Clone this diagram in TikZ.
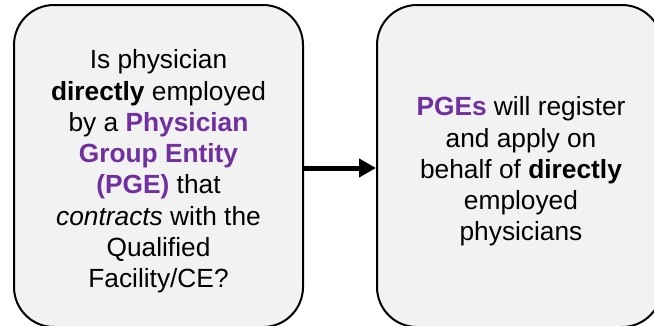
\documentclass[tikz,border=0pt]{standalone}
\usepackage{fontspec}
\setmainfont{Liberation Sans}
\usetikzlibrary{arrows.meta}
\definecolor{pgepurple}{HTML}{7030A0}
\definecolor{boxfill}{HTML}{F2F2F2}
\tikzset{
  card/.style={draw=black, line width=2pt, fill=boxfill, rounded corners=40pt,
    inner sep=0pt},
  cardtext/.style={align=center, inner sep=0pt, font=\fontsize{26.3}{31.3}\selectfont},
  flowarrow/.style={line width=5pt, -{Triangle[length=17pt,width=18pt]}},
}
\newcommand{\pg}[1]{\textcolor{pgepurple}{\textbf{#1}}}
\begin{document}
\begin{tikzpicture}[x=1pt,y=1pt]
\useasboundingbox (0,0) rectangle (654,325);
\clip (0,0) rectangle (654,325);
\node[card, minimum width=289pt, minimum height=322pt] (L) at (158.5,159) {};
\node[card, minimum width=285pt, minimum height=322pt] (R) at (519.5,159) {};
\node[cardtext] (Lt) at ([yshift=-5.5pt]L.center)
  {Is physician\\ \textbf{directly} employed\\ by a \pg{Physician}\\ \pg{Group Entity}\\ \pg{(PGE)} that\\ \textit{contracts} with the\\ Qualified\\ Facility/CE?};
\node[cardtext] (Rt) at ([xshift=1.5pt,yshift=-5.5pt]R.center)
  {\pg{PGEs} will register\\ and apply on\\ behalf of \textbf{directly}\\ employed\\ physicians};
\draw[flowarrow] ([yshift=-2pt]L.east) -- ([yshift=-2pt]R.west);
\end{tikzpicture}
\end{document}
